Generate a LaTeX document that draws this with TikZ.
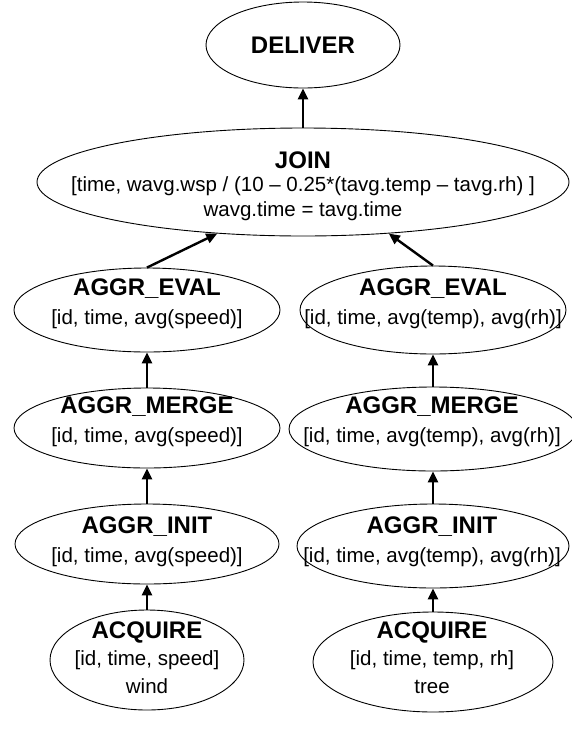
\documentclass[tikz,border=0pt]{standalone}
\usepackage{fontspec}
\setmainfont{Liberation Sans}
\usetikzlibrary{shapes.geometric,arrows.meta}
\begin{document}
\begin{tikzpicture}[x=1pt,y=-1pt,
  op/.style={draw,ellipse,line width=0.9pt,inner sep=0pt},
  ttl/.style={font=\fontsize{24}{27}\selectfont\bfseries,inner sep=0pt},
  txt/.style={font=\fontsize{20.5}{23}\selectfont,inner sep=0pt},
  flow/.style={line width=2.4pt,-{Triangle[length=11pt,width=10pt]}}]
\useasboundingbox (0,0) rectangle (571,729);

% operator ellipses
\node[op,minimum width=194pt,minimum height=86pt] (deliver) at (303,45) {};
\node[op,minimum width=532pt,minimum height=108pt] (join) at (303,182) {};
\node[op,minimum width=266pt,minimum height=84pt] (evalL) at (147,310) {};
\node[op,minimum width=266pt,minimum height=88pt] (evalR) at (433,310) {};
\node[op,minimum width=266pt,minimum height=80pt] (mergeL) at (147,428) {};
\node[op,minimum width=288pt,minimum height=84pt] (mergeR) at (433,429) {};
\node[op,minimum width=264pt,minimum height=80pt] (initL) at (147,544) {};
\node[op,minimum width=272pt,minimum height=84pt] (initR) at (433,546) {};
\node[op,minimum width=194pt,minimum height=100pt] (acqL) at (147,660) {};
\node[op,minimum width=240pt,minimum height=100pt] (acqR) at (433,662) {};

% labels
\node[ttl] (tDeliver) at (303,45) {DELIVER};
\node[ttl] (tJoin) at (303,160) {JOIN};
\node[txt] (tJoin2) at (303,186) {[time, wavg.wsp / (10 – 0.25*(tavg.temp – tavg.rh) ]};
\node[txt] (tJoin3) at (303,211) {wavg.time = tavg.time};
\node[ttl] (tEvalL) at (147,289) {AGGR\_EVAL};
\node[txt] (tEvalL2) at (147,319) {[id, time, avg(speed)]};
\node[ttl] (tEvalR) at (433,289) {AGGR\_EVAL};
\node[txt] (tEvalR2) at (433,319) {[id, time, avg(temp), avg(rh)]};
\node[ttl] (tMergeL) at (147,407) {AGGR\_MERGE};
\node[txt] (tMergeL2) at (147,437) {[id, time, avg(speed)]};
\node[ttl] (tMergeR) at (432,407) {AGGR\_MERGE};
\node[txt] (tMergeR2) at (432,437) {[id, time, avg(temp), avg(rh)]};
\node[ttl] (tInitL) at (147,527) {AGGR\_INIT};
\node[txt] (tInitL2) at (147,557) {[id, time, avg(speed)]};
\node[ttl] (tInitR) at (432,527) {AGGR\_INIT};
\node[txt] (tInitR2) at (432,557) {[id, time, avg(temp), avg(rh)]};
\node[ttl] (tAcqL) at (147,632) {ACQUIRE};
\node[txt] (tAcqL2) at (147,660) {[id, time, speed]};
\node[txt] (tAcqL3) at (147,686) {wind};
\node[ttl] (tAcqR) at (432,632) {ACQUIRE};
\node[txt] (tAcqR2) at (432,660) {[id, time, temp, rh]};
\node[txt] (tAcqR3) at (432,687) {tree};

% data flow
\draw[flow] (join.north) -- (deliver.south);
\draw[flow] (evalL.north) -- (join.211);
\draw[flow] (evalR.north) -- (join.329);
\draw[flow] (mergeL.north) -- (evalL.south);
\draw[flow] (mergeR.north) -- (evalR.south);
\draw[flow] (initL.north) -- (mergeL.south);
\draw[flow] (initR.north) -- (mergeR.south);
\draw[flow] (acqL.north) -- (initL.south);
\draw[flow] (acqR.north) -- (initR.south);
\end{tikzpicture}
\end{document}
